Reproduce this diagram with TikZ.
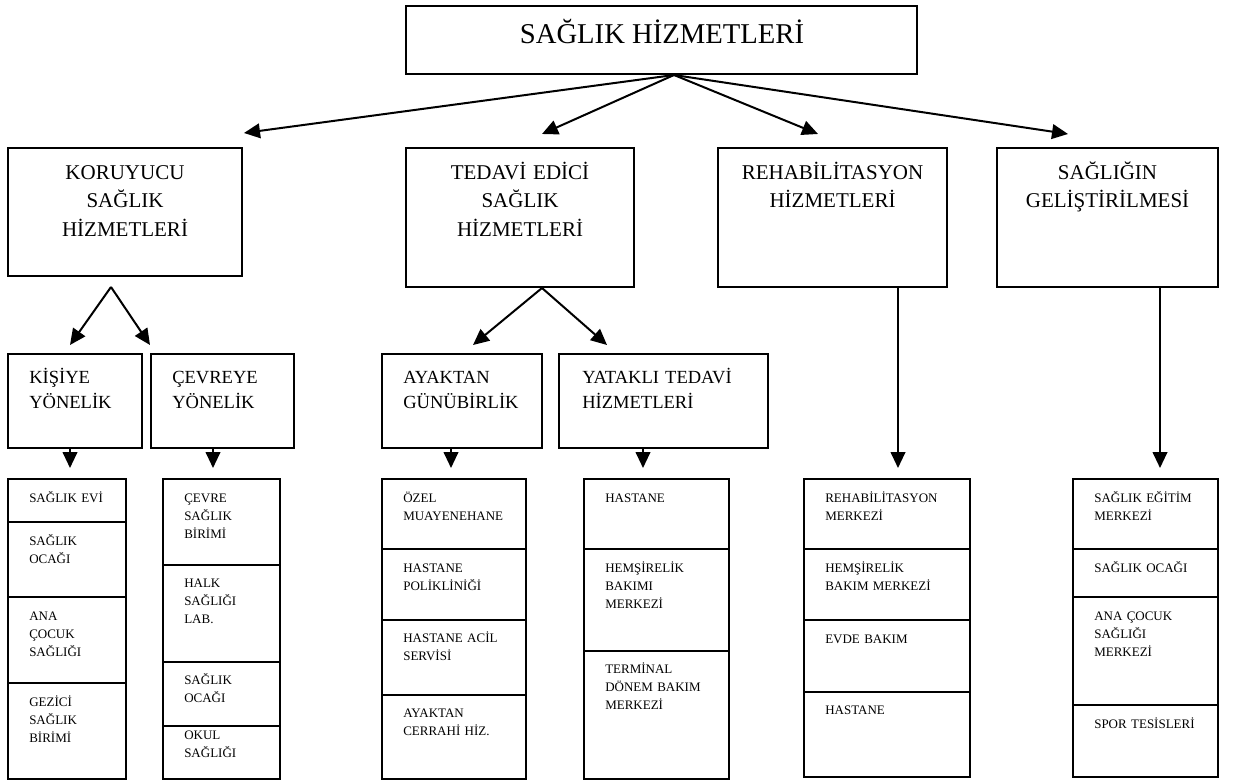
\documentclass[tikz,border=0pt]{standalone}
\usepackage{fontspec}
\setmainfont{Liberation Serif}
\usetikzlibrary{arrows.meta,calc}

\tikzset{
  box/.style={draw, line width=1.5pt, inner sep=0pt},
  arr/.style={line width=1.5pt, -{Triangle[length=12pt,width=11pt]}},
  titletxt/.style={font=\fontsize{21.5}{25}\selectfont, inner sep=0pt, anchor=base},
  maintxt/.style={font=\fontsize{15.75}{21.4}\selectfont, text width=170pt, align=center, inner sep=0pt, anchor=north, execute at begin node=\strut},
  subtxt/.style={font=\fontsize{13.9}{18.75}\selectfont, text width=150pt, align=left, inner sep=0pt, anchor=north west, execute at begin node=\strut},
  itemtxt/.style={font=\fontsize{9.75}{13.35}\selectfont, text width=120pt, align=left, inner sep=0pt, anchor=north west, execute at begin node=\strut},
  kcol/.style={box, minimum width=88.5pt},
  ccol/.style={box, minimum width=87.75pt},
  acol/.style={box, minimum width=108pt},
  ycol/.style={box, minimum width=108.75pt},
  rcol/.style={box, minimum width=124.5pt},
  scol/.style={box, minimum width=108.75pt},
}

\begin{document}
\begin{tikzpicture}[x=0.75pt,y=0.75pt,yscale=-1,xscale=1]
\useasboundingbox (0,0) rectangle (1234,780);

%Shape: Rectangle
\node[box, minimum width=383.25pt, minimum height=51pt] (top) at (661.5,40) {};
% Text Node
\node[titletxt] (ttop) at (662,44) {SAĞLIK HİZMETLERİ};

%Shape: Rectangle
\node[box, minimum width=175.5pt, minimum height=96pt] (kor) at (125,212) {};
%Shape: Rectangle
\node[box, minimum width=171pt, minimum height=104.25pt] (ted) at (520,217.5) {};
%Shape: Rectangle
\node[box, minimum width=171.75pt, minimum height=104.25pt] (reh) at (832.5,217.5) {};
%Shape: Rectangle
\node[box, minimum width=165.75pt, minimum height=104.25pt] (sag) at (1107.5,217.5) {};
% Text Node
\node[maintxt] (tkor) at (125,159) {KORUYUCU\\SAĞLIK\\HİZMETLERİ};
% Text Node
\node[maintxt] (tted) at (520,159) {TEDAVİ EDİCİ\\SAĞLIK\\HİZMETLERİ};
% Text Node
\node[maintxt] (treh) at (832.5,159) {REHABİLİTASYON\\HİZMETLERİ};
% Text Node
\node[maintxt] (tsag) at (1107.5,159) {SAĞLIĞIN\\GELİŞTİRİLMESİ};

%Shape: Rectangle
\node[box, minimum width=100.5pt, minimum height=70.5pt] (kisi) at (75,401) {};
%Shape: Rectangle
\node[box, minimum width=107.25pt, minimum height=70.5pt] (cevre) at (222.5,401) {};
%Shape: Rectangle
\node[box, minimum width=120pt, minimum height=70.5pt] (ayak) at (462,401) {};
%Shape: Rectangle
\node[box, minimum width=156.75pt, minimum height=70.5pt] (yat) at (663.5,401) {};
% Text Node
\node[subtxt] (tkisi) at (29,366) {KİŞİYE\\YÖNELİK};
% Text Node
\node[subtxt] (tcevre) at (172,366) {ÇEVREYE\\YÖNELİK};
% Text Node
\node[subtxt] (tayak) at (403,366) {AYAKTAN\\GÜNÜBİRLİK};
% Text Node
\node[subtxt] (tyat) at (582,366) {YATAKLI TEDAVİ\\HİZMETLERİ};

%Shape: Rectangle -- kisiye yonelik list
\node[kcol, minimum height=32.25pt] (kl1) at (67,500.5) {};
\node[kcol, minimum height=56.25pt] (kl2) at (67,559.5) {};
\node[kcol, minimum height=64.5pt] (kl3) at (67,640) {};
\node[kcol, minimum height=72pt] (kl4) at (67,731) {};
% Text Node
\node[itemtxt] (tkl1) at (29,490) {SAĞLIK EVİ};
\node[itemtxt] (tkl2) at (29,533) {SAĞLIK\\OCAĞI};
\node[itemtxt] (tkl3) at (29,608) {ANA\\ÇOCUK\\SAĞLIĞI};
\node[itemtxt] (tkl4) at (29,694) {GEZİCİ\\SAĞLIK\\BİRİMİ};

%Shape: Rectangle -- cevreye yonelik list
\node[ccol, minimum height=64.5pt] (cl1) at (221.5,522) {};
\node[ccol, minimum height=72.75pt] (cl2) at (221.5,613.5) {};
\node[ccol, minimum height=48pt] (cl3) at (221.5,694) {};
\node[ccol, minimum height=39.75pt] (cl4) at (221.5,752.5) {};
% Text Node
\node[itemtxt] (tcl1) at (184,490) {ÇEVRE\\SAĞLIK\\BİRİMİ};
\node[itemtxt] (tcl2) at (184,575) {HALK\\SAĞLIĞI\\LAB.};
\node[itemtxt] (tcl3) at (184,672) {SAĞLIK\\OCAĞI};
\node[itemtxt] (tcl4) at (184,727) {OKUL\\SAĞLIĞI};

%Shape: Rectangle -- ayaktan list
\node[acol, minimum height=52.5pt] (al1) at (454,514) {};
\node[acol, minimum height=53.25pt] (al2) at (454,584.5) {};
\node[acol, minimum height=56.25pt] (al3) at (454,657.5) {};
\node[acol, minimum height=63pt] (al4) at (454,737) {};
% Text Node
\node[itemtxt] (tal1) at (403,490) {ÖZEL\\MUAYENEHANE};
\node[itemtxt] (tal2) at (403,560) {HASTANE\\POLİKLİNİĞİ};
\node[itemtxt] (tal3) at (403,630) {HASTANE ACİL\\SERVİSİ};
\node[itemtxt] (tal4) at (403,705) {AYAKTAN\\CERRAHİ HİZ.};

%Shape: Rectangle -- yatakli list
\node[ycol, minimum height=52.5pt] (yl1) at (656.5,514) {};
\node[ycol, minimum height=76.5pt] (yl2) at (656.5,600) {};
\node[ycol, minimum height=96pt] (yl3) at (656.5,715) {};
% Text Node
\node[itemtxt] (tyl1) at (605,490) {HASTANE};
\node[itemtxt] (tyl2) at (605,560) {HEMŞİRELİK\\BAKIMI\\MERKEZİ};
\node[itemtxt] (tyl3) at (605,661) {TERMİNAL\\DÖNEM BAKIM\\MERKEZİ};

%Shape: Rectangle -- rehabilitasyon list
\node[rcol, minimum height=52.5pt] (rl1) at (887,514) {};
\node[rcol, minimum height=53.25pt] (rl2) at (887,584.5) {};
\node[rcol, minimum height=54pt] (rl3) at (887,656) {};
\node[rcol, minimum height=63.75pt] (rl4) at (887,734.5) {};
% Text Node
\node[itemtxt] (trl1) at (825,490) {REHABİLİTASYON\\MERKEZİ};
\node[itemtxt] (trl2) at (825,560) {HEMŞİRELİK\\BAKIM MERKEZİ};
\node[itemtxt] (trl3) at (825,631) {EVDE BAKIM};
\node[itemtxt] (trl4) at (825,702) {HASTANE};

%Shape: Rectangle -- sagligin gelistirilmesi list
\node[scol, minimum height=52.5pt] (sl1) at (1145.5,514) {};
\node[scol, minimum height=36pt] (sl2) at (1145.5,573) {};
\node[scol, minimum height=81pt] (sl3) at (1145.5,651) {};
\node[scol, minimum height=54pt] (sl4) at (1145.5,741) {};
% Text Node
\node[itemtxt] (tsl1) at (1094,490) {SAĞLIK EĞİTİM\\MERKEZİ};
\node[itemtxt] (tsl2) at (1094,560) {SAĞLIK OCAĞI};
\node[itemtxt] (tsl3) at (1094,608) {ANA ÇOCUK\\SAĞLIĞI\\MERKEZİ};
\node[itemtxt] (tsl4) at (1094,716) {SPOR TESİSLERİ};

%Straight Lines
\draw[arr] ($(top.south)+(12.5,0)$) -- ($(kor.north east)+(1,-14)$);
\draw[arr] ($(top.south)+(12.5,0)$) -- ($(ted.north)+(22,-13)$);
\draw[arr] ($(top.south)+(12.5,0)$) -- ($(reh.north)+(-14.5,-13)$);
\draw[arr] ($(top.south)+(12.5,0)$) -- ($(sag.north)+(-39.5,-13)$);
%Straight Lines
\draw[arr] ($(kor.south)+(-14,10)$) -- ($(kisi.north)+(-5,-8)$);
\draw[arr] ($(kor.south)+(-14,10)$) -- ($(cevre.north west)+(0,-8)$);
\draw[arr] ($(ted.south)+(22,0)$) -- ($(ayak.north)+(11,-8)$);
\draw[arr] ($(ted.south)+(22,0)$) -- ($(yat.north west)+(49,-8)$);
%Straight Lines
\draw[arr] ($(kisi.south)+(-5,0)$) -- ($(kl1.north)+(3,-10)$);
\draw[arr] ($(cevre.south)+(-9.5,0)$) -- ($(cl1.north)+(-8.5,-10)$);
\draw[arr] ($(ayak.south)+(-11,0)$) -- ($(al1.north)+(-3,-10)$);
\draw[arr] ($(yat.south)+(-20.5,0)$) -- ($(yl1.north)+(-13.5,-10)$);
\draw[arr] ($(reh.south)+(65.5,0)$) -- ($(rl1.north)+(11,-10)$);
\draw[arr] ($(sag.south)+(52.5,0)$) -- ($(sl1.north)+(14.5,-10)$);

\end{tikzpicture}
\end{document}
